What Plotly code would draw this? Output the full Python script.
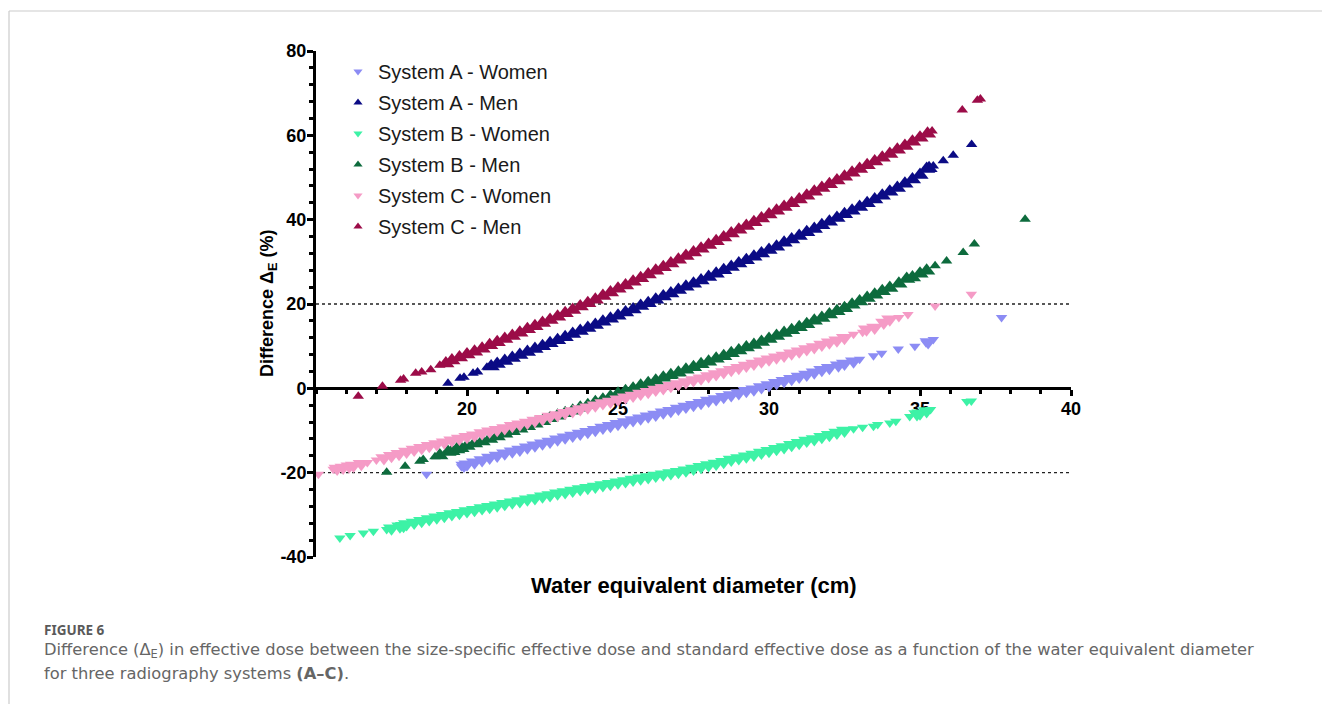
import plotly.graph_objects as go

# ---------------- data ----------------
A_women_x = [18.66, 19.82, 19.9,
             20.0, 20.25, 20.5, 20.75, 21.0, 21.25, 21.5, 21.75, 22.0, 22.25, 22.5, 22.75,
             23.0, 23.25, 23.5, 23.75, 24.0, 24.25, 24.5, 24.75, 25.0, 25.25, 25.5, 25.75,
             26.0, 26.25, 26.5, 26.75, 27.0, 27.25, 27.5, 27.75, 28.0, 28.25, 28.5, 28.75,
             29.0, 29.25, 29.5, 29.75, 30.0, 30.25, 30.5, 30.75, 31.0, 31.25, 31.5, 31.75,
             32.0, 32.3, 32.5, 32.8, 33.0, 33.46, 33.73, 34.28, 34.83, 35.2, 35.27, 35.44, 37.7]
A_women_y = [-20.4, -18.6, -18.3,
             -18.0, -17.5, -17.0, -16.4, -15.9, -15.4, -14.9, -14.5, -14.0, -13.5, -13.0, -12.6,
             -12.1, -11.6, -11.2, -10.7, -10.3, -9.8, -9.3, -8.9, -8.4, -8.0, -7.5, -7.1,
             -6.6, -6.2, -5.7, -5.3, -4.8, -4.3, -3.9, -3.4, -2.9, -2.5, -2.0, -1.6,
             -1.1, -0.6, -0.2, 0.3, 0.8, 1.3, 1.8, 2.3, 2.8, 3.3, 3.8, 4.4,
             4.9, 5.5, 5.9, 6.4, 6.9, 7.7, 8.3, 9.3, 10.0, 10.8, 11.0, 11.6, 16.8]

A_men_x = [19.37, 19.77, 19.9, 20.2, 20.35, 20.66, 20.8,
           21.0, 21.25, 21.5, 21.75, 22.0, 22.25, 22.5, 22.75, 23.0, 23.25, 23.5, 23.75,
           24.0, 24.25, 24.5, 24.75, 25.0, 25.25, 25.5, 25.75, 26.0, 26.25, 26.5, 26.75,
           27.0, 27.25, 27.5, 27.75, 28.0, 28.25, 28.5, 28.75, 29.0, 29.25, 29.5, 29.75,
           30.0, 30.25, 30.5, 30.75, 31.0, 31.25, 31.5, 31.75, 32.0, 32.25, 32.5, 32.75,
           33.0, 33.25, 33.5, 33.75, 34.0, 34.25, 34.5, 34.75,
           35.0, 35.22, 35.3, 35.44, 35.77, 36.1, 36.71]
A_men_y = [1.2, 2.4, 2.6, 3.6, 3.9, 5.0, 5.2,
           5.8, 6.5, 7.2, 7.9, 8.6, 9.3, 10.0, 10.7, 11.4, 12.1, 12.9, 13.6,
           14.3, 15.0, 15.8, 16.5, 17.2, 18.0, 18.7, 19.5, 20.2, 21.0, 21.8, 22.5,
           23.3, 24.1, 24.8, 25.6, 26.4, 27.2, 28.0, 28.8, 29.6, 30.4, 31.2, 32.0,
           32.8, 33.6, 34.5, 35.3, 36.1, 37.0, 37.8, 38.7, 39.5, 40.4, 41.3, 42.1,
           43.0, 43.9, 44.8, 45.7, 46.6, 47.5, 48.5, 49.5,
           50.6, 52.0, 52.2, 52.7, 54.0, 55.3, 57.8]

B_women_x = [15.79, 16.13, 16.57, 16.9, 17.34, 17.5, 17.78, 17.9,
             18.0, 18.25, 18.5, 18.75, 19.0, 19.25, 19.5, 19.75, 20.0, 20.25, 20.5, 20.75,
             21.0, 21.25, 21.5, 21.75, 22.0, 22.25, 22.5, 22.75, 23.0, 23.25, 23.5, 23.75,
             24.0, 24.25, 24.5, 24.75, 25.0, 25.25, 25.5, 25.75, 26.0, 26.25, 26.5, 26.75,
             27.0, 27.25, 27.5, 27.75, 28.0, 28.25, 28.5, 28.75, 29.0, 29.25, 29.5, 29.75,
             30.0, 30.25, 30.5, 30.75, 31.0, 31.25, 31.5, 31.75, 32.0, 32.25, 32.5,
             32.8, 33.1, 33.46, 33.6, 34.0, 34.2, 34.66, 34.9, 35.0, 35.22, 35.35, 36.55, 36.7]
B_women_y = [-35.5, -34.9, -34.3, -33.9, -33.5, -33.2, -32.7, -32.6,
             -32.2, -31.8, -31.4, -31.0, -30.6, -30.2, -29.8, -29.5, -29.1, -28.8, -28.4, -28.1,
             -27.7, -27.4, -27.0, -26.7, -26.3, -26.0, -25.6, -25.3, -24.9, -24.6, -24.2, -23.9,
             -23.6, -23.3, -22.9, -22.6, -22.3, -22.0, -21.6, -21.3, -21.0, -20.7, -20.4, -20.1,
             -19.8, -19.4, -19.0, -18.6, -18.2, -17.8, -17.4, -16.9, -16.5, -16.1, -15.7, -15.2,
             -14.8, -14.3, -13.9, -13.4, -12.9, -12.4, -12.0, -11.5, -11.0, -10.5, -10.0,
             -9.6, -9.2, -9.0, -8.6, -8.2, -7.8, -6.7, -6.1, -5.9, -5.4, -5.0, -3.1, -3.0]

B_men_x = [17.34, 17.95, 18.44, 18.55, 18.94, 19.1, 19.37, 19.5, 19.66, 19.8,
           20.0, 20.25, 20.5, 20.75, 21.0, 21.25, 21.5, 21.75, 22.0, 22.25, 22.5, 22.75,
           23.0, 23.25, 23.5, 23.75, 24.0, 24.25, 24.5, 24.75, 25.0, 25.25, 25.5, 25.75,
           26.0, 26.25, 26.5, 26.75, 27.0, 27.25, 27.5, 27.75, 28.0, 28.25, 28.5, 28.75,
           29.0, 29.25, 29.5, 29.75, 30.0, 30.25, 30.5, 30.75, 31.0, 31.25, 31.5, 31.75,
           32.0, 32.25, 32.5, 32.75, 33.0, 33.25, 33.5, 33.75, 34.0,
           34.3, 34.56, 34.75, 35.0, 35.22, 35.5, 35.88, 36.43, 36.8, 38.48]
B_men_y = [-19.9, -18.5, -17.3, -16.9, -16.2, -15.9, -15.1, -14.9, -14.5, -14.2,
           -13.7, -13.1, -12.6, -12.0, -11.4, -10.8, -10.2, -9.6, -9.0, -8.4, -7.8, -7.1,
           -6.5, -5.9, -5.3, -4.6, -4.0, -3.3, -2.7, -2.0, -1.3, -0.7, -0.1, 0.6,
           1.2, 1.8, 2.5, 3.1, 3.7, 4.4, 5.0, 5.7, 6.3, 7.0, 7.6, 8.3,
           9.0, 9.7, 10.3, 11.0, 11.7, 12.4, 13.1, 13.8, 14.5, 15.2, 16.0, 16.7,
           17.5, 18.3, 19.0, 19.8, 20.6, 21.4, 22.2, 23.0, 23.8,
           24.8, 25.9, 26.3, 27.2, 27.9, 29.1, 30.2, 32.2, 34.2, 40.1]

C_women_x = [15.08, 15.57, 15.7, 15.9, 16.1, 16.24, 16.5, 16.7,
             17.0, 17.25, 17.5, 17.75, 18.0, 18.25, 18.5, 18.75, 19.0, 19.25, 19.5, 19.75,
             20.0, 20.25, 20.5, 20.75, 21.0, 21.25, 21.5, 21.75, 22.0, 22.25, 22.5, 22.75,
             23.0, 23.25, 23.5, 23.75, 24.0, 24.25, 24.5, 24.75, 25.0, 25.25, 25.5, 25.75,
             26.0, 26.25, 26.5, 26.75, 27.0, 27.25, 27.5, 27.75, 28.0, 28.25, 28.5, 28.75,
             29.0, 29.25, 29.5, 29.75, 30.0, 30.25, 30.5, 30.75, 31.0, 31.25, 31.5, 31.75,
             32.0, 32.25, 32.5,
             32.8, 33.1, 33.23, 33.5, 33.8, 34.0, 34.3, 34.6, 35.5, 36.7]
C_women_y = [-20.4, -19.2, -19.0, -18.8, -18.5, -18.3, -17.9, -17.6,
             -17.0, -16.5, -16.0, -15.5, -15.0, -14.5, -14.1, -13.6, -13.2, -12.8, -12.3, -11.9,
             -11.5, -11.1, -10.6, -10.2, -9.8, -9.4, -8.9, -8.5, -8.1, -7.6, -7.2, -6.7,
             -6.3, -5.8, -5.4, -4.9, -4.5, -4.0, -3.5, -3.1, -2.6, -2.1, -1.7, -1.2,
             -0.8, -0.3, 0.1, 0.6, 1.0, 1.5, 2.0, 2.4, 2.9, 3.4, 3.9, 4.4,
             4.9, 5.4, 5.9, 6.4, 6.9, 7.4, 7.8, 8.3, 8.8, 9.3, 9.8, 10.4,
             10.9, 11.4, 12.0,
             12.8, 13.3, 14.0, 14.4, 15.6, 16.4, 16.8, 17.5, 19.5, 22.3]

C_men_x = [16.4, 17.2, 17.8, 17.9, 18.3, 18.5, 18.8, 19.1, 19.3,
           19.5, 19.75, 20.0, 20.25, 20.5, 20.75, 21.0, 21.25, 21.5, 21.75, 22.0, 22.25,
           22.5, 22.75, 23.0, 23.25, 23.5, 23.75, 24.0, 24.25, 24.5, 24.75, 25.0, 25.25,
           25.5, 25.75, 26.0, 26.25, 26.5, 26.75, 27.0, 27.25, 27.5, 27.75, 28.0, 28.25,
           28.5, 28.75, 29.0, 29.25, 29.5, 29.75, 30.0, 30.25, 30.5, 30.75, 31.0, 31.25,
           31.5, 31.75, 32.0, 32.25, 32.5, 32.75, 33.0, 33.25, 33.5, 33.75, 34.0, 34.25,
           34.5, 34.75, 35.0, 35.25, 35.4, 36.4, 36.9, 37.0]
C_men_y = [-1.9, 0.5, 1.9, 2.2, 3.6, 3.9, 4.4, 5.5, 5.9,
           6.6, 7.3, 8.0, 8.7, 9.4, 10.2, 10.9, 11.7, 12.4, 13.2, 14.0, 14.7,
           15.5, 16.2, 17.0, 17.8, 18.6, 19.4, 20.2, 21.0, 21.9, 22.7, 23.6, 24.4,
           25.3, 26.1, 27.0, 27.9, 28.7, 29.6, 30.5, 31.4, 32.2, 33.1, 34.0, 34.9,
           35.8, 36.7, 37.6, 38.5, 39.4, 40.3, 41.2, 42.1, 43.0, 43.9, 44.8, 45.7,
           46.6, 47.5, 48.4, 49.3, 50.2, 51.1, 52.0, 52.9, 53.8, 54.7, 55.6, 56.6,
           57.5, 58.5, 59.4, 60.4, 61.0, 66.0, 68.3, 68.6]

series_names = ["System A - Women", "System A - Men", "System B - Women",
                "System B - Men", "System C - Women", "System C - Men"]
series_x = [A_women_x, A_men_x, B_women_x, B_men_x, C_women_x, C_men_x]
series_y = [A_women_y, A_men_y, B_women_y, B_men_y, C_women_y, C_men_y]
series_colors = ["#8C8CF4", "#0B0B85", "#3DF2A6", "#0D6B3D", "#F59BC6", "#9C0C48"]
series_symbols = ["triangle-down", "triangle-up", "triangle-down",
                  "triangle-up", "triangle-down", "triangle-up"]

x_ticks = [20, 25, 30, 35, 40]
y_ticks = [-40, -20, 0, 20, 40, 60, 80]
thresholds = [20, -20]

caption_head = "FIGURE 6"
caption_l1 = ("Difference (Δ<sub>E</sub>) in effective dose between the size-specific effective dose "
              "and standard effective dose as a function of the water equivalent diameter")
caption_l2 = "for three radiography systems <b>(A–C)</b>."

# ---------------- figure ----------------
FONT = "Arial, Liberation Sans, sans-serif"
W, H = 1322, 704
L, R, T, B = 316, 251, 51, 147
pw, ph = W - L - R, H - T - B


def px_to_paper_x(px):
    return (px - L) / pw


def px_to_paper_y(py):
    return (H - B - py) / ph


def marker_sizes(xs, dense=15, sparse=10):
    """Overlapping points (many patients) form a solid band: draw them larger."""
    out = []
    n = len(xs)
    for i in range(n):
        gaps = []
        if i > 0:
            gaps.append(xs[i] - xs[i - 1])
        if i < n - 1:
            gaps.append(xs[i + 1] - xs[i])
        out.append(dense if len(gaps) == 2 and max(gaps) <= 0.3 else sparse)
    return out


fig = go.Figure()
for name, xs, ys, col, sym in zip(series_names, series_x, series_y, series_colors, series_symbols):
    fig.add_trace(go.Scatter(
        x=xs, y=ys, mode="markers", name=name, legendgroup=name, showlegend=False,
        marker=dict(symbol=sym, size=marker_sizes(xs), color=col, opacity=1,
                    line=dict(width=0)),
        cliponaxis=False,
    ))
# legend entries (small symbols, as in the reference legend)
for name, col, sym in zip(series_names, series_colors, series_symbols):
    fig.add_trace(go.Scatter(
        x=[None], y=[None], mode="markers", name=name, legendgroup=name, showlegend=True,
        marker=dict(symbol=sym, size=8, color=col, opacity=1, line=dict(width=0)),
    ))

shapes = []
for t in thresholds:
    shapes.append(dict(type="line", xref="x", yref="y", x0=15, x1=40, y0=t, y1=t,
                       line=dict(color="#222", width=1.3, dash="dot"), layer="below"))
# page frame (left and top border)
shapes.append(dict(type="line", xref="paper", yref="paper",
                   x0=px_to_paper_x(9), x1=px_to_paper_x(9),
                   y0=px_to_paper_y(11), y1=px_to_paper_y(704),
                   line=dict(color="#cccccc", width=1.2)))
shapes.append(dict(type="line", xref="paper", yref="paper",
                   x0=px_to_paper_x(9), x1=px_to_paper_x(1322),
                   y0=px_to_paper_y(11), y1=px_to_paper_y(11),
                   line=dict(color="#cccccc", width=1.2)))

CAP_X = 42
annotations = [
    dict(text="<b>Difference Δ<sub>E</sub> (%)</b>", textangle=-90, xref="paper", yref="paper",
         x=px_to_paper_x(268), y=px_to_paper_y(304), xanchor="center", yanchor="middle",
         showarrow=False, font=dict(family=FONT, size=18, color="black")),
    dict(text="<b>Water equivalent diameter (cm)</b>", xref="paper", yref="paper",
         x=0.5, y=px_to_paper_y(585), xanchor="center", yanchor="middle",
         showarrow=False, font=dict(family=FONT, size=22, color="black")),
    dict(text="<b>" + caption_head + "</b>", xref="paper", yref="paper",
         x=px_to_paper_x(CAP_X), y=px_to_paper_y(630), xanchor="left", yanchor="middle",
         showarrow=False, font=dict(family="Noto Sans", size=13.5, color="#5a5a5a")),
    dict(text=caption_l1, xref="paper", yref="paper",
         x=px_to_paper_x(CAP_X), y=px_to_paper_y(650), xanchor="left", yanchor="middle",
         showarrow=False, font=dict(family="DejaVu Sans", size=16.3, color="#666666")),
    dict(text=caption_l2, xref="paper", yref="paper",
         x=px_to_paper_x(CAP_X), y=px_to_paper_y(673), xanchor="left", yanchor="middle",
         showarrow=False, font=dict(family="DejaVu Sans", size=16.3, color="#666666")),
]

fig.update_layout(
    width=W, height=H,
    margin=dict(l=L, r=R, t=T, b=B, pad=0),
    paper_bgcolor="white", plot_bgcolor="white",
    showlegend=True,
    legend=dict(x=px_to_paper_x(338), y=px_to_paper_y(52), xanchor="left", yanchor="top",
                bgcolor="rgba(0,0,0,0)", borderwidth=0, tracegroupgap=2,
                font=dict(family=FONT, size=20, color="#1a1a1a")),
    shapes=shapes,
    annotations=annotations,
    xaxis=dict(range=[15, 40], anchor="free", position=1/3,
               showgrid=False, zeroline=False, showline=True, linewidth=3, linecolor="black",
               tickmode="array", tickvals=x_ticks, ticktext=[str(v) for v in x_ticks],
               ticks="outside", ticklen=6, tickwidth=3, tickcolor="black",
               ticklabelstandoff=-3,
               tickfont=dict(family=FONT, size=18, color="black", weight="bold"),
               minor=dict(tickmode="linear", tick0=15, dtick=1, ticks="outside",
                          ticklen=4, tickwidth=3, tickcolor="black", showgrid=False),
               layer="below traces"),
    yaxis=dict(range=[-40, 80],
               showgrid=False, zeroline=False, showline=True, linewidth=3, linecolor="black",
               tickmode="array", tickvals=y_ticks, ticktext=[str(v) for v in y_ticks],
               ticks="outside", ticklen=6, tickwidth=3, tickcolor="black",
               ticklabelstandoff=-3,
               tickfont=dict(family=FONT, size=18, color="black", weight="bold"),
               minor=dict(tickmode="linear", tick0=0, dtick=4, ticks="outside",
                          ticklen=4, tickwidth=3, tickcolor="black", showgrid=False)),
)

fig.write_html("out.html")
